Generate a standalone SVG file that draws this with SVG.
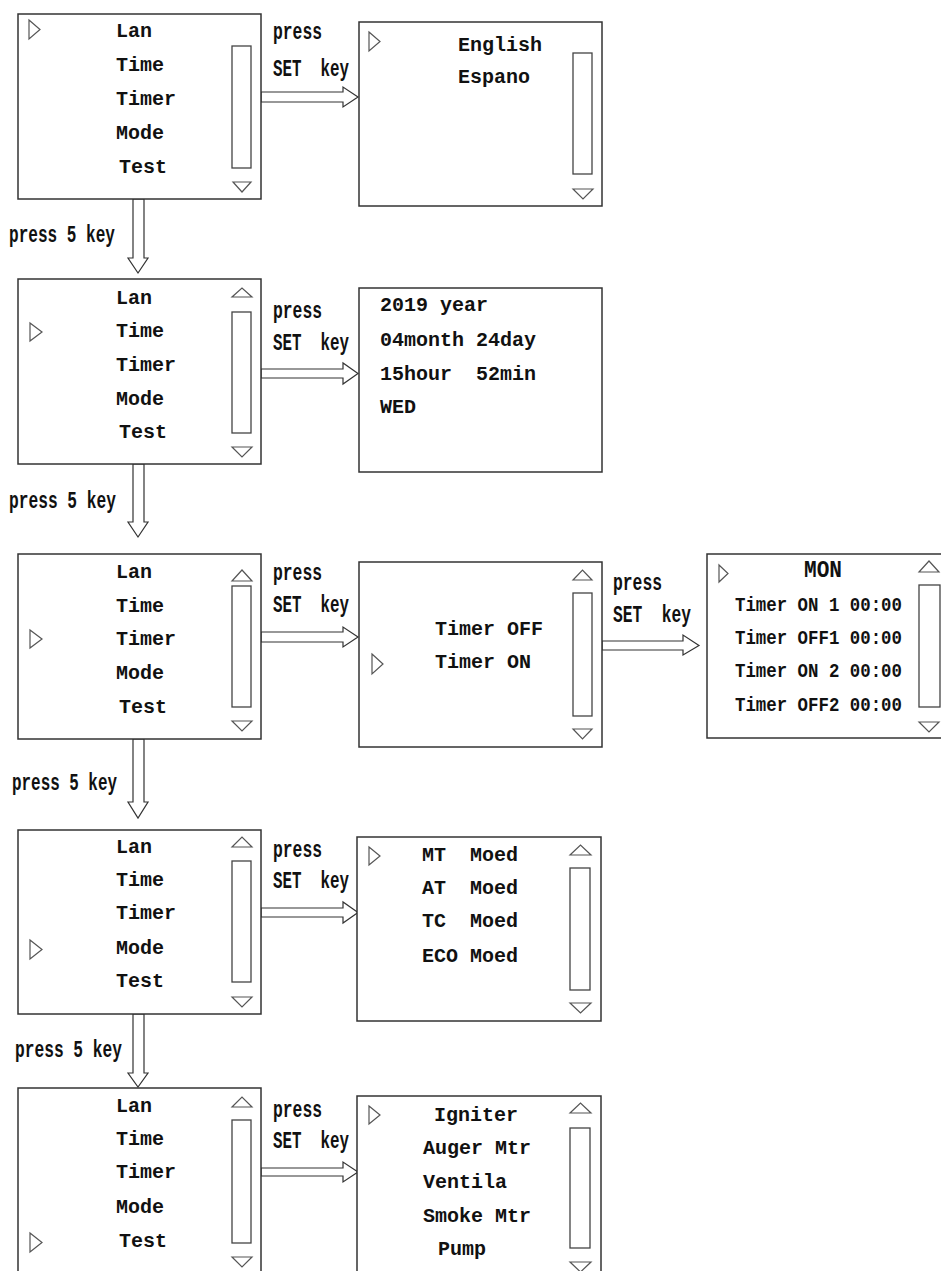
<svg xmlns="http://www.w3.org/2000/svg" width="941" height="1271" viewBox="0 0 941 1271">
<style>
.bx{fill:#fff;stroke:#333;stroke-width:1.5}
.sb{fill:none;stroke:#444;stroke-width:1.3}
.tri{fill:none;stroke:#555;stroke-width:1.2;stroke-linejoin:miter}
.ar{fill:#fff;stroke:#333;stroke-width:1.2;stroke-linejoin:miter}
.m{font-family:"Liberation Mono",monospace;font-weight:bold;font-size:20px;fill:#111}
.l{font-family:"Liberation Mono",monospace;font-weight:bold;font-size:23px;fill:#111}
.t{font-family:"Liberation Mono",monospace;font-weight:bold;font-size:21px;fill:#111}
</style>
<rect width="941" height="1271" fill="#fff"/>

<g id="connectors">
  <polygon class="ar" points="261,92 343,92 343,87 358,97 343,107 343,102 261,102"/>
  <polygon class="ar" points="261,369 343,369 343,363 358,373.5 343,384 343,378 261,378"/>
  <polygon class="ar" points="261,632 343,632 343,627 358,637 343,647 343,642 261,642"/>
  <polygon class="ar" points="602,641 683,641 683,635 699,645.5 683,655 683,650 602,650"/>
  <polygon class="ar" points="261,908 343,908 343,902 358,912.5 343,923 343,917 261,917"/>
  <polygon class="ar" points="261,1168 343,1168 343,1162 358,1172 343,1182 343,1176 261,1176"/>
  <polygon class="ar" points="133,199 133,258 128,258 138,273 148,258 144,258 144,199"/>
  <polygon class="ar" points="133,464 133,522 128,522 138,537 148,522 144,522 144,464"/>
  <polygon class="ar" points="133,739 133,802 128,802 138,818 148,802 144,802 144,739"/>
  <polygon class="ar" points="133,1014 133,1073 128,1073 138,1087 148,1073 144,1073 144,1014"/>
  <text class="l" x="273" y="39" textLength="49" lengthAdjust="spacingAndGlyphs">press</text>
  <text class="l" x="273" y="76" textLength="76" lengthAdjust="spacingAndGlyphs" xml:space="preserve">SET  key</text>
  <text class="l" x="9" y="242" textLength="106" lengthAdjust="spacingAndGlyphs">press 5 key</text>
  <text class="l" x="273" y="318" textLength="49" lengthAdjust="spacingAndGlyphs">press</text>
  <text class="l" x="273" y="350" textLength="76" lengthAdjust="spacingAndGlyphs" xml:space="preserve">SET  key</text>
  <text class="l" x="9" y="508" textLength="107" lengthAdjust="spacingAndGlyphs">press 5 key</text>
  <text class="l" x="273" y="580" textLength="49" lengthAdjust="spacingAndGlyphs">press</text>
  <text class="l" x="273" y="612" textLength="76" lengthAdjust="spacingAndGlyphs" xml:space="preserve">SET  key</text>
  <text class="l" x="613" y="590" textLength="49" lengthAdjust="spacingAndGlyphs">press</text>
  <text class="l" x="613" y="622" textLength="78" lengthAdjust="spacingAndGlyphs" xml:space="preserve">SET  key</text>
  <text class="l" x="12" y="790" textLength="105" lengthAdjust="spacingAndGlyphs">press 5 key</text>
  <text class="l" x="273" y="857" textLength="49" lengthAdjust="spacingAndGlyphs">press</text>
  <text class="l" x="273" y="888" textLength="76" lengthAdjust="spacingAndGlyphs" xml:space="preserve">SET  key</text>
  <text class="l" x="15" y="1057" textLength="107" lengthAdjust="spacingAndGlyphs">press 5 key</text>
  <text class="l" x="273" y="1117" textLength="49" lengthAdjust="spacingAndGlyphs">press</text>
  <text class="l" x="273" y="1148" textLength="76" lengthAdjust="spacingAndGlyphs" xml:space="preserve">SET  key</text>
</g>

<g id="menu-lan">
  <rect class="bx" x="18" y="14" width="243" height="185"/>
  <polygon class="tri" points="29,20 40,29.5 29,39"/>
  <rect class="sb" x="232" y="46" width="19" height="122"/>
  <polygon class="tri" points="233,182 251,182 242,192"/>
  <text class="m" x="116" y="37">Lan</text>
  <text class="m" x="116" y="71">Time</text>
  <text class="m" x="116" y="105">Timer</text>
  <text class="m" x="116" y="139">Mode</text>
  <text class="m" x="119" y="173">Test</text>
</g>

<g id="language">
  <rect class="bx" x="359" y="22" width="243" height="184"/>
  <polygon class="tri" points="369,32 380,41.5 369,51"/>
  <rect class="sb" x="573" y="53" width="19" height="121"/>
  <polygon class="tri" points="573,189 593,189 583,199"/>
  <text class="m" x="458" y="51">English</text>
  <text class="m" x="458" y="83">Espano</text>
</g>

<g id="menu-time">
  <rect class="bx" x="18" y="279" width="243" height="185"/>
  <polygon class="tri" points="232,297 252,297 242,288"/>
  <rect class="sb" x="232" y="312" width="19" height="121"/>
  <polygon class="tri" points="232,447 252,447 242,457"/>
  <polygon class="tri" points="30,323 42,332 30,341"/>
  <text class="m" x="116" y="304">Lan</text>
  <text class="m" x="116" y="337">Time</text>
  <text class="m" x="116" y="371">Timer</text>
  <text class="m" x="116" y="405">Mode</text>
  <text class="m" x="119" y="438">Test</text>
</g>

<g id="time-set">
  <rect class="bx" x="359" y="288" width="243" height="184"/>
  <text class="m" x="380" y="311">2019 year</text>
  <text class="m" x="380" y="346">04month 24day</text>
  <text class="m" x="380" y="380" xml:space="preserve">15hour  52min</text>
  <text class="m" x="380" y="413">WED</text>
</g>

<g id="menu-timer">
  <rect class="bx" x="18" y="554" width="243" height="185"/>
  <polygon class="tri" points="232,581 252,581 242,570"/>
  <rect class="sb" x="232" y="586" width="19" height="121"/>
  <polygon class="tri" points="232,721 252,721 242,731"/>
  <polygon class="tri" points="30,630 42,639 30,648"/>
  <text class="m" x="116" y="578">Lan</text>
  <text class="m" x="116" y="612">Time</text>
  <text class="m" x="116" y="645">Timer</text>
  <text class="m" x="116" y="679">Mode</text>
  <text class="m" x="119" y="713">Test</text>
</g>

<g id="timer-onoff">
  <rect class="bx" x="359" y="562" width="243" height="185"/>
  <polygon class="tri" points="573,580 592,580 582.5,570"/>
  <rect class="sb" x="573" y="593" width="19" height="123"/>
  <polygon class="tri" points="573,729 592,729 582.5,739"/>
  <polygon class="tri" points="372,654 383,664 372,674"/>
  <text class="m" x="435" y="635">Timer OFF</text>
  <text class="m" x="435" y="668">Timer ON</text>
</g>

<g id="timer-schedule">
  <rect class="bx" x="707" y="554" width="240" height="184"/>
  <polygon class="tri" points="919,572 939,572 929,561"/>
  <rect class="sb" x="919" y="585" width="21" height="122"/>
  <polygon class="tri" points="919,722 939,722 929,732"/>
  <polygon class="tri" points="719,565 728,573.5 719,582"/>
  <text class="l" x="804" y="577" textLength="38" lengthAdjust="spacingAndGlyphs">MON</text>
  <text class="t" x="735" y="611" textLength="167" lengthAdjust="spacingAndGlyphs">Timer ON 1 00:00</text>
  <text class="t" x="735" y="644" textLength="167" lengthAdjust="spacingAndGlyphs">Timer OFF1 00:00</text>
  <text class="t" x="735" y="677" textLength="167" lengthAdjust="spacingAndGlyphs">Timer ON 2 00:00</text>
  <text class="t" x="735" y="711" textLength="167" lengthAdjust="spacingAndGlyphs">Timer OFF2 00:00</text>
</g>

<g id="menu-mode">
  <rect class="bx" x="18" y="830" width="243" height="184"/>
  <polygon class="tri" points="232,847 252,847 242,837"/>
  <rect class="sb" x="232" y="861" width="19" height="121"/>
  <polygon class="tri" points="232,997 252,997 242,1007"/>
  <polygon class="tri" points="30,940 42,949.5 30,959"/>
  <text class="m" x="116" y="853">Lan</text>
  <text class="m" x="116" y="886">Time</text>
  <text class="m" x="116" y="919">Timer</text>
  <text class="m" x="116" y="954">Mode</text>
  <text class="m" x="116" y="987">Test</text>
</g>

<g id="mode-select">
  <rect class="bx" x="357" y="837" width="244" height="184"/>
  <polygon class="tri" points="570,855 591,855 580.5,845"/>
  <rect class="sb" x="570" y="868" width="20" height="122"/>
  <polygon class="tri" points="570,1003 591,1003 580.5,1013"/>
  <polygon class="tri" points="369,847 380,856 369,865"/>
  <text class="m" x="422" y="861" xml:space="preserve">MT  Moed</text>
  <text class="m" x="422" y="894" xml:space="preserve">AT  Moed</text>
  <text class="m" x="422" y="927" xml:space="preserve">TC  Moed</text>
  <text class="m" x="422" y="962">ECO Moed</text>
</g>

<g id="menu-test">
  <rect class="bx" x="18" y="1088" width="243" height="192"/>
  <polygon class="tri" points="232,1107 252,1107 242,1097"/>
  <rect class="sb" x="232" y="1120" width="19" height="123"/>
  <polygon class="tri" points="232,1257 252,1257 242,1267"/>
  <polygon class="tri" points="30,1233 42,1242.5 30,1252"/>
  <text class="m" x="116" y="1112">Lan</text>
  <text class="m" x="116" y="1145">Time</text>
  <text class="m" x="116" y="1178">Timer</text>
  <text class="m" x="116" y="1213">Mode</text>
  <text class="m" x="119" y="1247">Test</text>
</g>

<g id="test-select">
  <rect class="bx" x="357" y="1096" width="244" height="190"/>
  <polygon class="tri" points="570,1113 591,1113 580.5,1103"/>
  <rect class="sb" x="570" y="1128" width="20" height="120"/>
  <polygon class="tri" points="570,1262 591,1262 580.5,1272"/>
  <polygon class="tri" points="369,1106 380,1115 369,1124"/>
  <text class="m" x="434" y="1121">Igniter</text>
  <text class="m" x="423" y="1154">Auger Mtr</text>
  <text class="m" x="423" y="1188">Ventila</text>
  <text class="m" x="423" y="1222">Smoke Mtr</text>
  <text class="m" x="438" y="1255">Pump</text>
</g>
</svg>
